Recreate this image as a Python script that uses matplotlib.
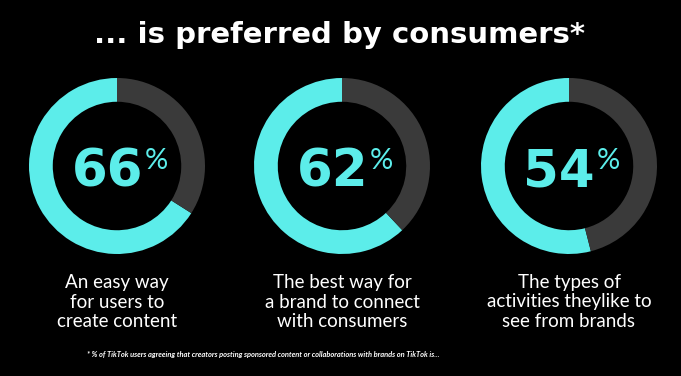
import matplotlib
matplotlib.use("Agg")
import matplotlib.pyplot as plt

# data
values = [66, 62, 54]
labels = [
    "An easy way\nfor users to\ncreate content",
    "The best way for\na brand to connect\nwith consumers",
    "The types of\nactivities theylike to\nsee from brands",
]
title = "... is preferred by consumers*"
footnote = ("* % of TikTok users agreeing that creators posting sponsored content "
            "or collaborations with brands on TikTok is...")

CYAN = "#5CEDEA"
GREY = "#3A3A3A"
W, H = 681, 376

fig = plt.figure(figsize=(W / 100, H / 100), dpi=100, facecolor="black")

centers_x = [117, 342, 569]
cy = 166
r = 88

for cx, v, lab in zip(centers_x, values, labels):
    ax = fig.add_axes([(cx - r) / W, (H - cy - r) / H, 2 * r / W, 2 * r / H])
    ax.pie([v, 100 - v], colors=[CYAN, GREY], startangle=90, counterclock=True,
           wedgeprops=dict(width=0.27, linewidth=0))
    ax.set_aspect("equal")
    ax.set_xlim(-1, 1)
    ax.set_ylim(-1, 1)
    ax.axis("off")

    # big number + small percent sign
    fig.text((cx + 26) / W, (H - 167) / H, str(v), color=CYAN, fontsize=37,
             fontfamily="DejaVu Sans", fontweight="bold", ha="right", va="center_baseline")
    fig.text((cx + 28) / W, (H - 161) / H, "%", color=CYAN, fontsize=21,
             fontfamily="Lato", fontweight="normal", ha="left", va="center")

    fig.text(cx / W, (H - 302) / H, lab, color="white", fontsize=13.5,
             fontfamily="Lato", ha="center", va="center", linespacing=1.15)

fig.text(340 / W, (H - 35) / H, title, color="white", fontsize=21,
         fontfamily="DejaVu Sans", fontweight="bold", ha="center", va="center")
fig.text(263 / W, (H - 355) / H, footnote, color="white", fontsize=5.4,
         fontfamily="Lato", fontweight="bold", style="italic", ha="center", va="center")

fig.savefig("out.png", dpi=100, facecolor="black")
